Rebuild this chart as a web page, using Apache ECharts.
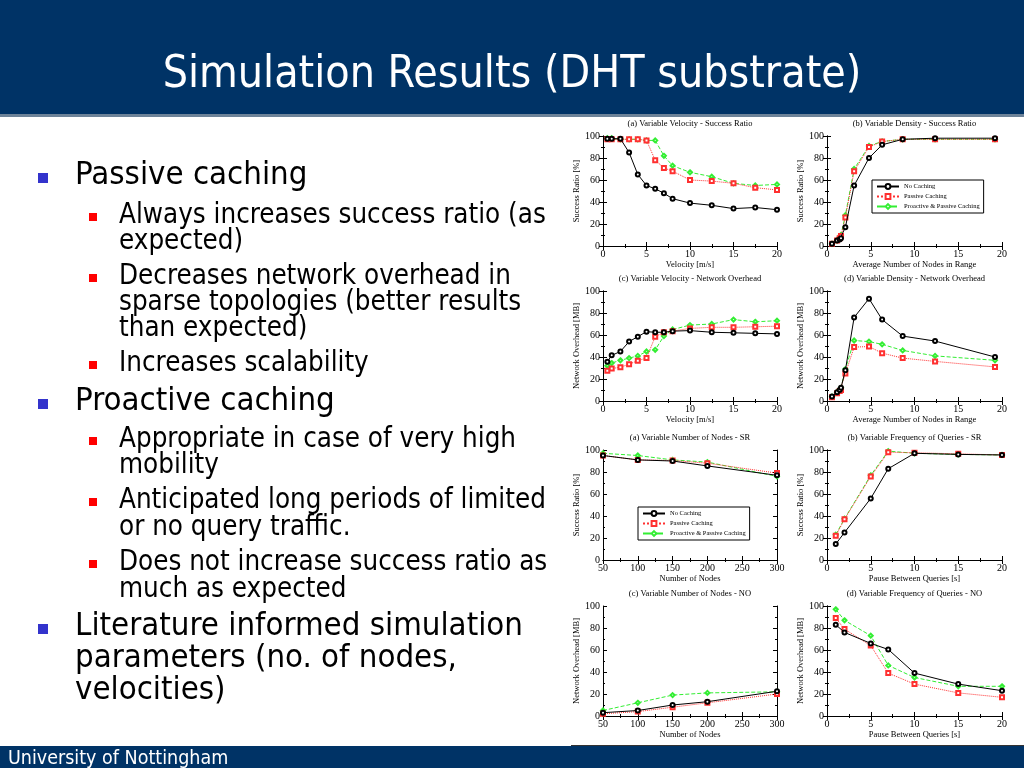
<!DOCTYPE html>
<html><head><meta charset="utf-8">
<script src="https://cdn.jsdelivr.net/npm/echarts@6/dist/echarts.min.js"></script>
<style>html,body{margin:0;padding:0;background:#fff;}#c{width:1024px;height:768px;}</style>
</head><body><div id="c"></div>
<script>
// ---- data ----
const seriesNames = ['No Caching', 'Passive Caching', 'Proactive & Passive Caching'];
const velX = [0.5, 1, 2, 3, 4, 5, 6, 7, 8, 10, 12.5, 15, 17.5, 20];
const velSR_no = [97.5, 97.5, 97.5, 85, 65, 55, 52, 48, 43, 39, 37, 34, 35, 33];
const velSR_pc = [97, 97, 97, 97, 97, 96, 78, 71, 68, 60, 59, 57, 53, 51];
const velSR_pp = [98, 98, 97, 97, 97, 96, 96, 82, 73, 67, 63, 57, 55, 56];
const denX = [0.57, 1.15, 1.45, 1.6, 2.1, 3.1, 4.8, 6.3, 8.65, 12.35, 19.2];
const denSR_no = [2, 5, 6, 7, 17, 55, 80, 92, 97, 98, 98];
const denSR_pc = [2, 5, 7, 9, 26, 68, 90, 95, 97, 97, 97];
const denSR_pp = [2, 5, 8, 10, 28, 70, 91, 95, 97, 97, 97];
const velNO_no = [35.7, 41.5, 45, 54, 58.5, 63, 62.5, 62.5, 63.5, 64, 62.5, 62, 61.5, 61];
const velNO_pc = [27.6, 29.5, 30.7, 33.5, 36.6, 39, 58.5, 62.5, 63.5, 66, 67, 67, 67.5, 68];
const velNO_pp = [32, 34.5, 37, 39, 41, 45, 46.5, 59, 65, 69, 70, 74, 72, 73];
const denNO_no = [4, 8, 10, 12, 28, 76, 93, 74, 59, 54.5, 40];
const denNO_pc = [3.5, 7, 9, 10, 25, 49, 49.5, 43.5, 39, 36, 31];
const denNO_pp = [4, 8, 10, 12, 29, 55, 54, 51.5, 46, 41, 37];
const nodesX = [50, 100, 150, 200, 300];
const nodesSR_no = [95, 91, 90, 85.5, 77];
const nodesSR_pc = [95, 91, 90.5, 88, 79];
const nodesSR_pp = [97, 95, 91, 89, 76];
const qX = [1, 2, 5, 7, 10, 15, 20];
const qSR_no = [14.5, 25, 56, 83, 97, 96, 95.5];
const qSR_pc = [22, 37, 76, 98, 97.5, 96.5, 95.5];
const qSR_pp = [23, 37.5, 77, 99, 97, 96, 95.5];
const nodesNO_no = [3, 5, 10, 13, 22.5];
const nodesNO_pc = [2, 4, 8, 12, 20];
const nodesNO_pp = [5, 12, 19, 21, 22];
const qNO_no = [83, 76, 66, 60.5, 39, 29, 23];
const qNO_pc = [89, 79, 64, 39, 29, 21, 17];
const qNO_pp = [97, 87, 73, 46, 35, 27, 27];

const panelTitles = ['(a) Variable Velocity - Success Ratio', '(b) Variable Density - Success Ratio',
  '(c) Variable Velocity - Network Overhead', '(d) Variable Density - Network Overhead',
  '(a) Variable Number of Nodes - SR', '(b) Variable Frequency of Queries - SR',
  '(c) Variable Number of Nodes - NO', '(d) Variable Frequency of Queries - NO'];
const xNames = ['Velocity [m/s]', 'Average Number of Nodes in Range', 'Velocity [m/s]', 'Average Number of Nodes in Range',
  'Number of Nodes', 'Pause Between Queries [s]', 'Number of Nodes', 'Pause Between Queries [s]'];
const yNames = ['Success Ratio [%]', 'Success Ratio [%]', 'Network Overhead [MB]', 'Network Overhead [MB]',
  'Success Ratio [%]', 'Success Ratio [%]', 'Network Overhead [MB]', 'Network Overhead [MB]'];
const panelX = [velX, denX, velX, denX, nodesX, qX, nodesX, qX];
const panelY = [[velSR_no, velSR_pc, velSR_pp], [denSR_no, denSR_pc, denSR_pp], [velNO_no, velNO_pc, velNO_pp],
  [denNO_no, denNO_pc, denNO_pp], [nodesSR_no, nodesSR_pc, nodesSR_pp], [qSR_no, qSR_pc, qSR_pp],
  [nodesNO_no, nodesNO_pc, nodesNO_pp], [qNO_no, qNO_pc, qNO_pp]];
const panelXRange = [[0, 20, 5], [0, 20, 5], [0, 20, 5], [0, 20, 5], [50, 300, 50], [0, 20, 5], [50, 300, 50], [0, 20, 5]];

const slideTitle = 'Simulation Results (DHT substrate)';
const footer = 'University of Nottingham';
// [level, text, baseline, bullet?]
const bulletLines = [
  [1, 'Passive caching', 185, true],
  [2, 'Always increases success ratio (as', 224, true],
  [2, 'expected)', 250, false],
  [2, 'Decreases network overhead in', 285, true],
  [2, 'sparse topologies (better results', 311, false],
  [2, 'than expected)', 337, false],
  [2, 'Increases scalability', 372, true],
  [1, 'Proactive caching', 411, true],
  [2, 'Appropriate in case of very high', 448, true],
  [2, 'mobility', 474, false],
  [2, 'Anticipated long periods of limited', 509, true],
  [2, 'or no query traffic.', 536, false],
  [2, 'Does not increase success ratio as', 571, true],
  [2, 'much as expected', 598, false],
  [1, 'Literature informed simulation', 636, true],
  [1, 'parameters (no. of nodes,', 668, false],
  [1, 'velocities)', 700, false]
];

// ---- layout ----
const colL = [603, 827], colW = [174, 175];
const rowT = [136, 291, 450, 606], rowH = 110;
const serif = 'Liberation Serif';
const sans = 'DejaVu Sans Condensed';
const colors = ['#000000', '#ff3030', '#33ee33'];
const symbols = ['emptyCircle', 'emptyRect', 'emptyDiamond'];
const ltypes = ['solid', 'dotted', 'dashed'];
const fs1 = 32.7, fs2 = 27.5, fsT = 44.3, fsF = 19.5;

const grids = [], xAxes = [], yAxes = [], series = [], titles = [];
for (let i = 0; i < 8; i++) {
  const c = i % 2, r = Math.floor(i / 2);
  grids.push({left: colL[c], top: rowT[r], width: colW[c], height: rowH, containLabel: false});
  titles.push({text: panelTitles[i], left: colL[c] + colW[c] / 2, top: rowT[r] - 17, textAlign: 'center',
    textStyle: {fontFamily: serif, fontSize: 8.5, fontWeight: 'normal', color: '#000'}, padding: 0});
  const xr = panelXRange[i];
  const base = {
    gridIndex: i, type: 'value',
    axisLine: {show: true, lineStyle: {color: '#000', width: 1}},
    axisTick: {show: true, inside: true, length: 4, lineStyle: {color: '#000'}},
    minorTick: {show: true, splitNumber: 2, length: 2, lineStyle: {color: '#000'}},
    splitLine: {show: false}
  };
  xAxes.push(Object.assign({}, base, {position: 'bottom', min: xr[0], max: xr[1], interval: xr[2],
    axisLabel: {fontFamily: serif, fontSize: 10, color: '#000', margin: 3},
    name: xNames[i], nameLocation: 'middle', nameGap: 14,
    nameTextStyle: {fontFamily: serif, fontSize: 8.5, color: '#000'}}));
  xAxes.push(Object.assign({}, base, {position: 'top', min: xr[0], max: xr[1], interval: xr[2], axisLabel: {show: false}}));
  yAxes.push(Object.assign({}, base, {position: 'left', min: 0, max: 100, interval: 20,
    axisLabel: {fontFamily: serif, fontSize: 10, color: '#000', margin: 3},
    name: yNames[i], nameLocation: 'middle', nameGap: 20,
    nameTextStyle: {fontFamily: serif, fontSize: 8.5, color: '#000'}}));
  yAxes.push(Object.assign({}, base, {position: 'right', min: 0, max: 100, interval: 20, axisLabel: {show: false}}));
  for (let s = 0; s < 3; s++) {
    series.push({
      type: 'line', name: seriesNames[s], xAxisIndex: 2 * i, yAxisIndex: 2 * i,
      data: panelX[i].map((x, k) => [x, panelY[i][s][k]]),
      symbol: symbols[s], symbolSize: 4, color: colors[s],
      lineStyle: {width: 1, type: ltypes[s], color: colors[s]},
      itemStyle: {color: colors[s], borderWidth: 0.8},
      z: 3 - s
    });
  }
}

const legendBase = {
  data: seriesNames, orient: 'vertical', itemWidth: 22, itemHeight: 6, itemGap: 3,
  backgroundColor: '#fff', borderColor: '#000', borderWidth: 1, padding: [3, 4], selectedMode: false,
  textStyle: {fontFamily: serif, fontSize: 6.5, color: '#000'}
};
const legends = [
  Object.assign({}, legendBase, {left: 872, top: 180}),
  Object.assign({}, legendBase, {left: 638, top: 507})
];

function txt(x, baseline, text, fs, fill, align) {
  return {type: 'text', x: x, y: baseline - 0.3 * fs, style: {text: text, fill: fill,
    font: fs + 'px "' + sans + '"', align: align || 'left', verticalAlign: 'middle'}};
}

const graphics = [
  {type: 'rect', shape: {x: 0, y: 0, width: 1024, height: 114}, style: {fill: '#003366'}, z: 0},
  {type: 'rect', shape: {x: 0, y: 114, width: 1024, height: 3}, style: {fill: '#6d8399'}, z: 0},
  txt(512, 89, slideTitle, fsT, '#fff', 'center'),
  {type: 'rect', shape: {x: 0, y: 746, width: 1024, height: 22}, style: {fill: '#003366'}, z: 0},
  txt(8, 765, footer, fsF, '#fff'),
  {type: 'line', shape: {x1: 571, y1: 745.5, x2: 1024, y2: 745.5}, style: {stroke: '#333', lineWidth: 1}}
];
bulletLines.forEach(([lvl, t, bl, hasB]) => {
  graphics.push(txt(lvl === 1 ? 75 : 119, bl, t, lvl === 1 ? fs1 : fs2, '#000'));
  if (hasB) {
    if (lvl === 1) graphics.push({type: 'rect', shape: {x: 38, y: bl - 12, width: 10, height: 10}, style: {fill: '#3333cc'}});
    else graphics.push({type: 'rect', shape: {x: 89, y: bl - 11, width: 8, height: 8}, style: {fill: '#ff0000'}});
  }
});

const chart = echarts.init(document.getElementById('c'), null, {renderer: 'canvas'});
chart.setOption({
  animation: false,
  backgroundColor: '#fff',
  title: titles,
  grid: grids,
  xAxis: xAxes,
  yAxis: yAxes,
  legend: legends,
  series: series,
  graphic: graphics
});
</script></body></html>
